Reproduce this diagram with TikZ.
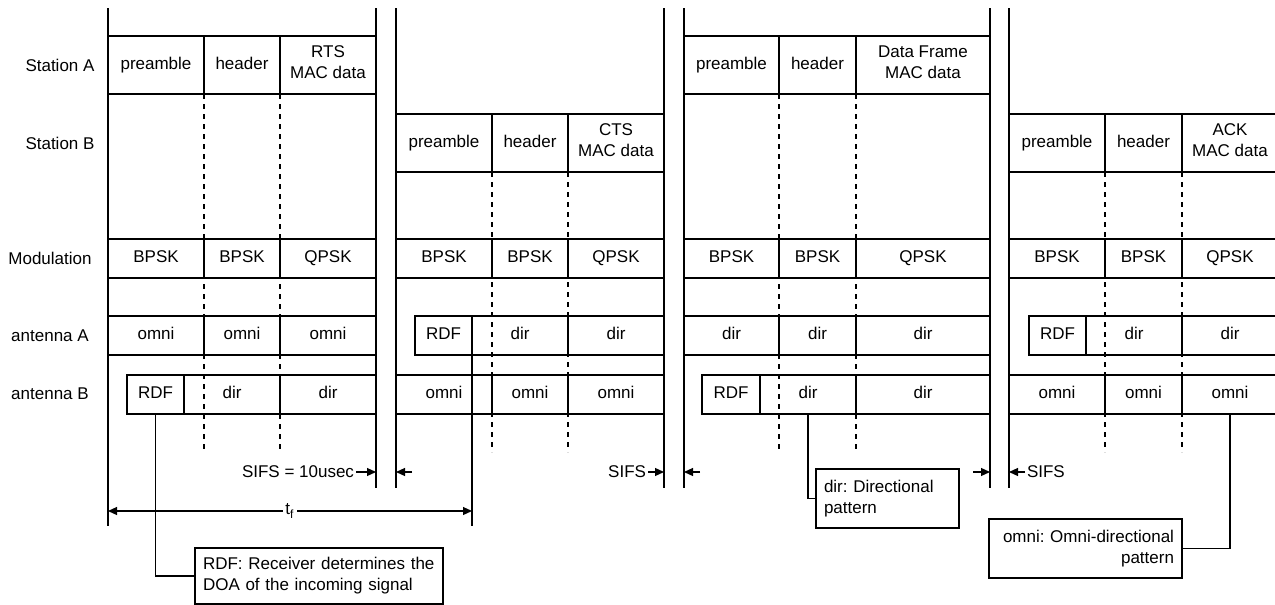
\documentclass[tikz,border=0pt]{standalone}
\usepackage{fontspec}
\setmainfont{Liberation Sans}
\frenchspacing
\usetikzlibrary{positioning,arrows.meta}

\begin{document}
\begin{tikzpicture}[x=0.5pt,y=-0.5pt,every node/.style={outer sep=0pt,font=\fontsize{8.5}{10.5}\selectfont},
  >={Triangle[length=4.5pt,width=4pt]}]
\tikzstyle{cell}=[draw,line width=0.6pt,anchor=north west,inner sep=0pt,align=center,
  execute at begin node=\strut,execute at end node=\strut]
\tikzstyle{sta}=[cell,minimum height=29pt]
\tikzstyle{mod}=[cell,minimum height=19.5pt]
\tikzstyle{ant}=[cell,minimum height=19.5pt]
\tikzstyle{note}=[draw,line width=0.6pt,anchor=north west,inner xsep=4pt,minimum height=29.5pt]
\tikzstyle{rule}=[line width=0.6pt]
\tikzstyle{guide}=[line width=0.6pt,dash pattern=on 2.5pt off 2.5pt]
\tikzstyle{tag}=[inner sep=1pt]

\useasboundingbox (0,0) rectangle (1275,605);

% row labels
\node (lblSA) at (60,65) {Station A};
\node (lblSB) at (60,143) {Station B};
\node (lblMod) at (50,258) {Modulation};
\node (lblAA) at (50,336) {antenna A};
\node (lblAB) at (50,394) {antenna B};

% frame borders
\coordinate (f1l) at (108,8);
\coordinate (f1r) at (376,8);
\coordinate (f2l) at (396,8);
\coordinate (f2r) at (664,8);
\coordinate (f3l) at (684,8);
\coordinate (f3r) at (990,8);
\coordinate (f4l) at (1009,8);
\draw [rule] (f1l) -- ++(0,518);
\draw [rule] (f1r) -- ++(0,480);
\draw [rule] (f2l) -- ++(0,480);
\draw [rule] (f2r) -- ++(0,480);
\draw [rule] (f3l) -- ++(0,480);
\draw [rule] (f3r) -- ++(0,480);
\draw [rule] (f4l) -- ++(0,480);

% RTS
\node (sta1p) [sta,minimum width=48pt] at (108,36) {preamble};
\node (sta1h) [sta,minimum width=38pt] at (sta1p.north east) {header};
\node (sta1d) [sta,minimum width=48pt] at (sta1h.north east) {RTS\\MAC data};
\node (mod1p) [mod,minimum width=48pt] at (108,239) {BPSK};
\node (mod1h) [mod,minimum width=38pt] at (mod1p.north east) {BPSK};
\node (mod1d) [mod,minimum width=48pt] at (mod1h.north east) {QPSK};
\node (anA1p) [ant,minimum width=48pt] at (108,316) {omni};
\node (anA1h) [ant,minimum width=38pt] at (anA1p.north east) {omni};
\node (anA1d) [ant,minimum width=48pt] at (anA1h.north east) {omni};
\node (anB1r) [ant,minimum width=28.5pt] at (127,375) {RDF};
\node (anB1h) [ant,minimum width=48pt] at (anB1r.north east) {dir};
\node (anB1d) [ant,minimum width=48pt] at (anB1h.north east) {dir};
\draw [guide] (sta1p.south east) -- ++(0,358);
\draw [guide] (sta1h.south east) -- ++(0,358);

% CTS
\node (stb2p) [sta,minimum width=48pt] at (396,114) {preamble};
\node (stb2h) [sta,minimum width=38pt] at (stb2p.north east) {header};
\node (stb2d) [sta,minimum width=48pt] at (stb2h.north east) {CTS\\MAC data};
\node (mod2p) [mod,minimum width=48pt] at (396,239) {BPSK};
\node (mod2h) [mod,minimum width=38pt] at (mod2p.north east) {BPSK};
\node (mod2d) [mod,minimum width=48pt] at (mod2h.north east) {QPSK};
\node (anA2r) [ant,minimum width=28.5pt] at (415,316) {RDF};
\node (anA2h) [ant,minimum width=48pt] at (anA2r.north east) {dir};
\node (anA2d) [ant,minimum width=48pt] at (anA2h.north east) {dir};
\node (anB2p) [ant,minimum width=48pt] at (396,375) {omni};
\node (anB2h) [ant,minimum width=38pt] at (anB2p.north east) {omni};
\node (anB2d) [ant,minimum width=48pt] at (anB2h.north east) {omni};
\draw [guide] (stb2p.south east) -- ++(0,280);
\draw [guide] (stb2h.south east) -- ++(0,280);

% Data frame
\node (sta3p) [sta,minimum width=47.5pt] at (684,36) {preamble};
\node (sta3h) [sta,minimum width=38.5pt] at (sta3p.north east) {header};
\node (sta3d) [sta,minimum width=67pt] at (sta3h.north east) {Data Frame\\MAC data};
\node (mod3p) [mod,minimum width=47.5pt] at (684,239) {BPSK};
\node (mod3h) [mod,minimum width=38.5pt] at (mod3p.north east) {BPSK};
\node (mod3d) [mod,minimum width=67pt] at (mod3h.north east) {QPSK};
\node (anA3p) [ant,minimum width=47.5pt] at (684,316) {dir};
\node (anA3h) [ant,minimum width=38.5pt] at (anA3p.north east) {dir};
\node (anA3d) [ant,minimum width=67pt] at (anA3h.north east) {dir};
\node (anB3r) [ant,minimum width=29pt] at (702,375) {RDF};
\node (anB3h) [ant,minimum width=48pt] at (anB3r.north east) {dir};
\node (anB3d) [ant,minimum width=67pt] at (anB3h.north east) {dir};
\draw [guide] (sta3p.south east) -- ++(0,358);
\draw [guide] (sta3h.south east) -- ++(0,358);

% ACK
\node (stb4p) [sta,minimum width=48pt] at (1009,114) {preamble};
\node (stb4h) [sta,minimum width=38.5pt] at (stb4p.north east) {header};
\node (stb4d) [sta,minimum width=48pt] at (stb4h.north east) {ACK\\MAC data};
\node (mod4p) [mod,minimum width=48pt] at (1009,239) {BPSK};
\node (mod4h) [mod,minimum width=38.5pt] at (mod4p.north east) {BPSK};
\node (mod4d) [mod,minimum width=48pt] at (mod4h.north east) {QPSK};
\node (anA4r) [ant,minimum width=28.5pt] at (1029,316) {RDF};
\node (anA4h) [ant,minimum width=48pt] at (anA4r.north east) {dir};
\node (anA4d) [ant,minimum width=48pt] at (anA4h.north east) {dir};
\node (anB4p) [ant,minimum width=48pt] at (1009,375) {omni};
\node (anB4h) [ant,minimum width=38.5pt] at (anB4p.north east) {omni};
\node (anB4d) [ant,minimum width=48pt] at (anB4h.north east) {omni};
\draw [guide] (stb4p.south east) -- ++(0,280);
\draw [guide] (stb4h.south east) -- ++(0,280);

% SIFS gaps
\node (sifs1) [tag,anchor=east] at (356,472) {SIFS = 10usec};
\draw [rule,->] (sifs1.east) -- (sifs1.east -| f1r);
\coordinate (sifs1b) at (412,472);
\draw [rule,->] (sifs1b) -- (sifs1b -| f2l);
\node (sifs2) [tag,anchor=east] at (648,472) {SIFS};
\draw [rule,->] (sifs2.east) -- (sifs2.east -| f2r);
\coordinate (sifs2b) at (700,472);
\draw [rule,->] (sifs2b) -- (sifs2b -| f3l);
\coordinate (sifs3a) at (973,472);
\draw [rule,->] (sifs3a) -- (sifs3a -| f3r);
\node (sifs3) [tag,anchor=west] at (1025,472) {SIFS};
\draw [rule,->] (sifs3.west) -- (sifs3.west -| f4l);

% t_f
\draw [rule] (anA2r.north east) -- ++(0,210);
\coordinate (tfl) at (108,511);
\coordinate (tfr) at (472,511);
\draw [rule,<->] (tfl) -- node (tf) [fill=white,inner sep=1pt] {t\textsubscript{f}} (tfr);

% notes
\node (rdfnote) [note,text width=116pt,align=left,minimum height=28pt] at (195,548) {RDF: Receiver determines the\\DOA of the incoming signal};
\draw [rule] (anB1r.south) |- (rdfnote.west);
\node (dirnote) [note,text width=63.5pt,align=left] at (816,469) {dir: Directional\\pattern};
\draw [rule] (anB3h.south) |- (dirnote.west);
\node (omninote) [note,text width=88.5pt,align=right] at (989,519) {omni: Omni-directional\\pattern};
\draw [rule] (anB4d.south) |- (omninote.east);

\end{tikzpicture}
\end{document}
